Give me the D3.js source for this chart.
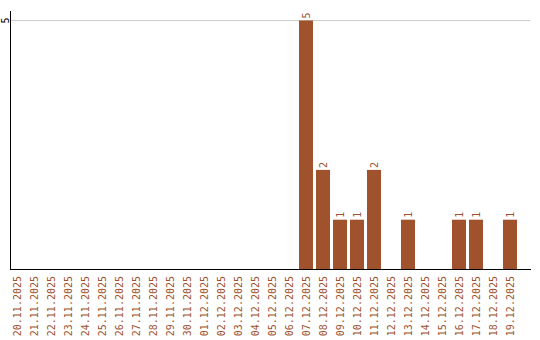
<!DOCTYPE html>
<html>
<head>
<meta charset="utf-8">
<script src="https://cdn.jsdelivr.net/npm/d3@7"></script>
<style>
	body { margin: 0; background: #ffffff; }
	text { font-family: "DejaVu Sans Mono", monospace; font-size: 10px; }
</style>
</head>
<body>
<div id="canvas"></div>
<script>
var dates = ["20.11.2025","21.11.2025","22.11.2025","23.11.2025","24.11.2025","25.11.2025",
	"26.11.2025","27.11.2025","28.11.2025","29.11.2025","30.11.2025","01.12.2025",
	"02.12.2025","03.12.2025","04.12.2025","05.12.2025","06.12.2025","07.12.2025",
	"08.12.2025","09.12.2025","10.12.2025","11.12.2025","12.12.2025","13.12.2025",
	"14.12.2025","15.12.2025","16.12.2025","17.12.2025","18.12.2025","19.12.2025"];
var counts = [0,0,0,0,0,0,0,0,0,0,0,0,0,0,0,0,0,5,2,1,1,2,0,1,0,0,1,1,0,1];
var yTicks = [5];

var w = 540, h = 340;
var brown = "#a0522d";

var svg = d3.select("#canvas")
	.append("svg")
	.attr("width", w)
	.attr("height", h);

var data = dates.map(function(d, i){ return {date: d, count: counts[i]}; });

var xScale = d3.scaleBand()
	.domain(dates)
	.range([10, 517])
	.paddingInner(3/17)
	.paddingOuter(0)
	.align(0);

var yScale = d3.scaleLinear()
	.domain([0, 5])
	.range([269.5, 20.5]);

// grid line
svg.selectAll(".grid")
	.data(yTicks)
	.enter()
	.append("line")
	.attr("x1", 10)
	.attr("x2", 530)
	.attr("y1", function(d){ return yScale(d); })
	.attr("y2", function(d){ return yScale(d); })
	.attr("stroke", "#cccccc")
	.attr("stroke-width", 1);

// y tick labels
svg.selectAll(".ytick")
	.data(yTicks)
	.enter()
	.append("text")
	.attr("transform", function(d){ return "translate(5," + yScale(d) + ") rotate(-90)"; })
	.attr("text-anchor", "middle")
	.attr("dy", "0.35em")
	.attr("fill", "#000000")
	.text(function(d){ return d; });

// bars
svg.selectAll(".bar")
	.data(data.filter(function(d){ return d.count > 0; }))
	.enter()
	.append("rect")
	.attr("x", function(d){ return xScale(d.date); })
	.attr("y", function(d){ return yScale(d.count); })
	.attr("width", xScale.bandwidth())
	.attr("height", function(d){ return yScale(0) - yScale(d.count); })
	.attr("fill", brown);

// value labels
svg.selectAll(".val")
	.data(data.filter(function(d){ return d.count > 0; }))
	.enter()
	.append("text")
	.attr("transform", function(d){
		var x = xScale(d.date) + xScale.bandwidth() / 2;
		return "translate(" + x + "," + (yScale(d.count) - 2) + ") rotate(-90)";
	})
	.attr("text-anchor", "start")
	.attr("dy", "0.35em")
	.attr("fill", brown)
	.text(function(d){ return d.count; });

// axes lines
svg.append("line")
	.attr("x1", 10.5).attr("x2", 10.5)
	.attr("y1", 11).attr("y2", 270)
	.attr("stroke", "#000000");
svg.append("line")
	.attr("x1", 10).attr("x2", 531)
	.attr("y1", 269.5).attr("y2", 269.5)
	.attr("stroke", "#000000");

// x labels
svg.selectAll(".xlab")
	.data(dates)
	.enter()
	.append("text")
	.attr("transform", function(d){
		var x = xScale(d) + xScale.bandwidth() / 2;
		return "translate(" + x + ",276) rotate(-90)";
	})
	.attr("text-anchor", "end")
	.attr("dy", "0.35em")
	.attr("fill", brown)
	.text(function(d){ return d; });
</script>
</body>
</html>
